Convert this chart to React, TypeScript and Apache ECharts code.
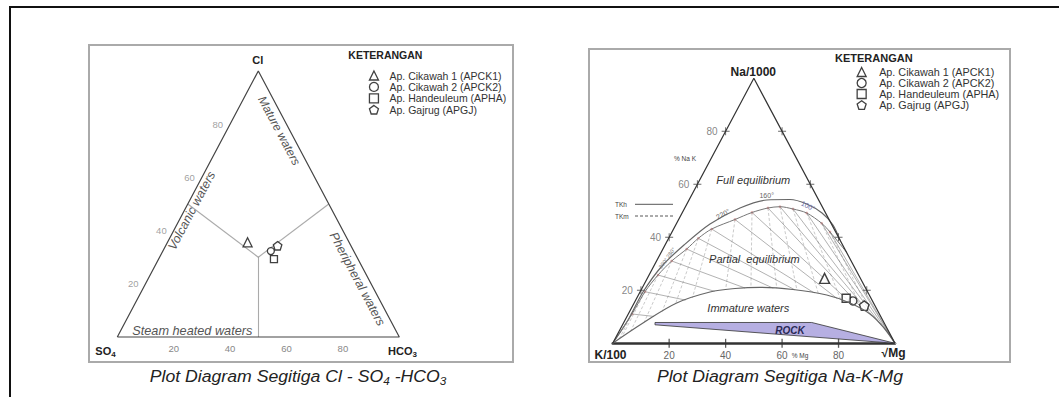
import React, { useEffect, useRef } from "react";
import * as echarts from "echarts";

const FONT = "Liberation Sans, Arial, sans-serif";
const PENTAGON = "path://M5,0L10,3.63L8.09,9.51L1.91,9.51L0,3.63Z";
const PLUS = "path://M4.4,0H5.6V4.4H10V5.6H5.6V10H4.4V5.6H0V4.4H4.4Z";

// ---- samples ----
const sampleNames = [
  "Ap. Cikawah 1 (APCK1)",
  "Ap. Cikawah 2 (APCK2)",
  "Ap. Handeuleum (APHA)",
  "Ap. Gajrug (APGJ)",
];
const sampleSymbols = ["triangle", "circle", "rect", PENTAGON];

// Chart 1: Cl - SO4 - HCO3 (%)
const clPct = [35.6, 32.3, 29.3, 34.3];
const so4Pct = [36.0, 29.4, 29.8, 26.0];
const hco3Pct = [28.4, 38.3, 40.9, 39.7];

// Chart 2: Na/1000 - K/100 - sqrt(Mg) (%)
const naPct = [24.5, 16.0, 17.0, 14.2];
const kPct = [12.7, 6.9, 8.8, 3.8];
const mgPct = [62.8, 77.1, 74.2, 82.0];

const tickValues = [20, 40, 60, 80];

// Chart 1 field boundaries [Cl, SO4, HCO3]
const volcanicLine = [[50, 50, 0], [30, 35, 35]];
const peripheralLine = [[50, 0, 50], [30, 35, 35]];
const steamLine = [[30, 35, 35], [0, 50, 50]];

// Chart 2 curves (Na %, Mg %; K = rest)
const fullEqNa = [0, 8.79, 19.36, 29.17, 37.09, 45.02, 51.06, 54.08, 54.26, 52.57, 49.17, 44.64, 38.98];
const fullEqMg = [0, 1.03, 1.05, 2.88, 6.71, 11.96, 19.57, 27.51, 35.67, 42.44, 49.56, 55.72, 61.0];

const dotNa = [11.06, 19.47, 25.77, 31.06, 35.58, 39.62, 43.13, 46.72, 49.36, 51.06, 51.55, 50.68, 49.17, 45.28, 42.0];
const dotMg = [1.31, 1.71, 3.16, 5.37, 8.42, 10.51, 13.5, 19.96, 24.66, 29.48, 33.48, 38.53, 44.13, 51.4, 55.97];
const innerEndNa = 34.45;
const innerEndMg = 65.55;

const lowerNa = [0, 7.66, 15.21, 19.36, 20.68, 21.13, 20.3, 18.23, 15.21, 11.06, 5.77, 0];
const lowerMg = [0, 6.9, 15.07, 24.79, 32.98, 41.62, 53.72, 66.7, 76.46, 85.61, 93.22, 100];

const rockNa = [7.85, 7.85, 0, 6.98];
const rockMg = [11.06, 66.57, 100, 11.49];

// ---- helpers ----
const tern1 = (cl: number, so4: number, hco3: number) => {
  const s = cl + so4 + hco3;
  return [((hco3 + cl / 2) / s) * 100, (cl / s) * 100];
};
const tern2 = (na: number, k: number, mg: number) => {
  const s = na + k + mg;
  return [((mg + na / 2) / s) * 100, (na / s) * 100];
};
const nm = (na: number, mg: number) => tern2(na, 100 - na - mg, mg);

function firstHit(p0: number[], p1: number[], poly: number[][]) {
  let best: number[] | null = null;
  let bu = Infinity;
  for (let i = 0; i < poly.length - 1; i++) {
    const a = poly[i], b = poly[i + 1];
    const r = [p1[0] - p0[0], p1[1] - p0[1]];
    const s = [b[0] - a[0], b[1] - a[1]];
    const den = r[0] * s[1] - r[1] * s[0];
    if (Math.abs(den) < 1e-9) continue;
    const q = [a[0] - p0[0], a[1] - p0[1]];
    const u = (q[0] * s[1] - q[1] * s[0]) / den;
    const v = (q[0] * r[1] - q[1] * r[0]) / den;
    if (u > 1e-4 && u <= 1 + 1e-9 && v >= -1e-9 && v <= 1 + 1e-9 && u < bu) {
      bu = u;
      best = [p0[0] + u * r[0], p0[1] + u * r[1]];
    }
  }
  return best || p1;
}

function buildOption(): any {
  const lowerCurve = lowerNa.map((n, i) => nm(n, lowerMg[i]));
  const dots = dotNa.map((n, i) => nm(n, dotMg[i]));
  const innerCurve = [nm(0, 0), ...dots, nm(innerEndNa, innerEndMg)];
  const fullEq = fullEqNa.map((n, i) => nm(n, fullEqMg[i]));
  const mgCorner = nm(0, 100);
  const naApex = nm(100, 0);
  const solidIso = dots.map((d) => ({ coords: [d, firstHit(d, mgCorner, lowerCurve)] }));
  const dashedIso = dots.map((d) => {
    const far = [d[0] + 3 * (d[0] - naApex[0]), d[1] + 3 * (d[1] - naApex[1])];
    return { coords: [d, firstHit(d, far, lowerCurve)] };
  });

  const series: any[] = [];
  // ---- chart 1 ----
  series.push({
    type: "line", xAxisIndex: 0, yAxisIndex: 0, symbol: "none", silent: true, clip: false,
    data: [tern1(0, 100, 0), tern1(0, 0, 100), tern1(100, 0, 0), tern1(0, 100, 0)],
    lineStyle: { color: "#444", width: 1.2 },
  });
  series.push({
    type: "lines", coordinateSystem: "cartesian2d", xAxisIndex: 0, yAxisIndex: 0, silent: true, clip: false,
    data: [volcanicLine, peripheralLine, steamLine].map((ln) => ({
      coords: ln.map((p) => tern1(p[0], p[1], p[2])),
    })),
    lineStyle: { color: "#555", width: 1.1 },
  });
  series.push({
    type: "scatter", xAxisIndex: 0, yAxisIndex: 0, symbolSize: 0, silent: true, clip: false,
    data: tickValues.map((t) => ({ value: [...tern1(t, 100 - t, 0), t] })),
    label: {
      show: true, position: "left", distance: 7, formatter: (p: any) => String(p.value[2]),
      color: "#888", fontSize: 9.5, fontFamily: FONT,
    },
  });
  const size1 = [9, 7, 7, 8.5];
  sampleNames.forEach((name, i) => {
    series.push({
      type: "scatter", name, xAxisIndex: 0, yAxisIndex: 0, clip: false,
      symbol: sampleSymbols[i], symbolSize: size1[i],
      itemStyle: { color: "#fff", borderColor: "#111", borderWidth: 1.3 },
      data: [tern1(clPct[i], so4Pct[i], hco3Pct[i])],
    });
  });

  // ---- chart 2 ----
  series.push({
    type: "custom", xAxisIndex: 1, yAxisIndex: 1, silent: true, clip: false, z: 1,
    data: [[0, 0]],
    renderItem: (_p: any, api: any) => ({
      type: "polygon",
      shape: { points: rockNa.map((n, i) => api.coord(nm(n, rockMg[i]))) },
      style: { fill: "#b6afe2", stroke: "#333", lineWidth: 0.8 },
    }),
  });
  series.push({
    type: "lines", coordinateSystem: "cartesian2d", xAxisIndex: 1, yAxisIndex: 1, silent: true, clip: false,
    data: dashedIso, lineStyle: { color: "#7a7a7a", width: 0.8, type: [3, 2] },
  });
  series.push({
    type: "lines", coordinateSystem: "cartesian2d", xAxisIndex: 1, yAxisIndex: 1, silent: true, clip: false,
    data: solidIso, lineStyle: { color: "#666", width: 1 },
  });
  series.push({
    type: "line", xAxisIndex: 1, yAxisIndex: 1, symbol: "none", silent: true, clip: false, smooth: 0.3,
    data: fullEq, lineStyle: { color: "#666", width: 1.2 },
  });
  series.push({
    type: "line", xAxisIndex: 1, yAxisIndex: 1, symbol: "none", silent: true, clip: false, smooth: 0.3,
    data: innerCurve, lineStyle: { color: "#777", width: 1 },
  });
  series.push({
    type: "line", xAxisIndex: 1, yAxisIndex: 1, symbol: "none", silent: true, clip: false, smooth: 0.35,
    data: lowerCurve, lineStyle: { color: "#666", width: 1.2 },
  });
  series.push({
    type: "scatter", xAxisIndex: 1, yAxisIndex: 1, silent: true, clip: false, symbolSize: 2.6,
    data: dots, itemStyle: { color: "#d98c8c" },
  });
  series.push({
    type: "line", xAxisIndex: 1, yAxisIndex: 1, symbol: "none", silent: true, clip: false,
    data: [nm(0, 0), naApex, mgCorner], lineStyle: { color: "#333", width: 1.2 },
  });
  series.push({
    type: "line", xAxisIndex: 1, yAxisIndex: 1, symbol: "none", silent: true, clip: false,
    data: [[100, 0], [106, 0]], lineStyle: { color: "#999", width: 1.6 },
  });
  series.push({
    type: "scatter", xAxisIndex: 1, yAxisIndex: 1, silent: true, clip: false,
    symbol: "rect", symbolSize: [1.3, 9], itemStyle: { color: "#333" },
    data: tickValues.map((t) => [t, 0]),
  });
  series.push({
    type: "scatter", xAxisIndex: 1, yAxisIndex: 1, silent: true, clip: false,
    symbol: PLUS, symbolSize: 8, itemStyle: { color: "#444" },
    data: tickValues.map((t) => ({ value: [...tern2(t, 100 - t, 0), t] })),
    label: {
      show: true, position: "left", distance: 4, formatter: (p: any) => String(p.value[2]),
      color: "#666", fontSize: 10, fontFamily: FONT,
    },
  });
  series.push({
    type: "scatter", xAxisIndex: 1, yAxisIndex: 1, silent: true, clip: false,
    symbol: PLUS, symbolSize: 8, itemStyle: { color: "#444" },
    data: tickValues.map((t) => tern2(t, 0, 100 - t)),
  });
  const size2 = [10, 8, 8, 9.5];
  sampleNames.forEach((name, i) => {
    series.push({
      type: "scatter", name, xAxisIndex: 1, yAxisIndex: 1, clip: false,
      symbol: sampleSymbols[i], symbolSize: size2[i],
      itemStyle: { color: "#fff", borderColor: "#111", borderWidth: 1.4 },
      data: [tern2(naPct[i], kPct[i], mgPct[i])],
    });
  });

  const txt = (x: number, y: number, text: string, o: any = {}, extra: any = {}) => ({
    type: "text", x, y, z: 50, silent: true, ...extra,
    style: {
      text, fontFamily: FONT, fontSize: 11, fill: "#222", align: "center", verticalAlign: "middle", ...o,
    },
  });
  const sub = (x: number, y: number, a: string, b: string, c: string, d: string, size: number, subSize: number, weight: string, italic: boolean, extra: any = {}) => ({
    type: "text", x, y, z: 50, silent: true, ...extra,
    style: {
      text: `{m|${a}}{s|${b}}` + (c ? `{m|${c}}{s|${d}}` : ""),
      align: "center", verticalAlign: "middle",
      rich: {
        m: { fontFamily: FONT, fontSize: size, fontWeight: weight, fontStyle: italic ? "italic" : "normal", fill: "#222", lineHeight: size + 2, padding: [0, 0, 2, 0], verticalAlign: "top" },
        s: { fontFamily: FONT, fontSize: subSize, fontWeight: weight, fontStyle: italic ? "italic" : "normal", fill: "#222", lineHeight: subSize, verticalAlign: "bottom" },
      },
    },
  });

  const graphic: any[] = [
    { type: "rect", silent: true, shape: { x: 10, y: 7, width: 1100, height: 500 }, style: { fill: "transparent", stroke: "#111", lineWidth: 2 } },
    { type: "rect", silent: true, shape: { x: 89, y: 45, width: 424, height: 317 }, style: { fill: "transparent", stroke: "#aaa", lineWidth: 2 } },
    { type: "rect", silent: true, shape: { x: 589, y: 49, width: 421, height: 313 }, style: { fill: "transparent", stroke: "#aaa", lineWidth: 2 } },
    // chart 1 texts
    txt(348.3, 54.5, "KETERANGAN", { align: "left", fontWeight: "bold", fontSize: 10.5 }),
    txt(257.7, 60, "Cl", { fontWeight: "bold", fontSize: 11 }),
    sub(105.5, 352, "SO", "4", "", "", 11, 8, "bold", false),
    sub(402.5, 352, "HCO", "3", "", "", 11, 8, "bold", false),
    txt(279.2, 130.8, "Mature waters", { fontStyle: "italic", fontSize: 12, fill: "#555" }, { rotation: -1.082 }),
    txt(191.7, 210.7, "Volcanic waters", { fontStyle: "italic", fontSize: 12.5, fill: "#555" }, { rotation: 1.085 }),
    txt(357.3, 279, "Pheripheral waters", { fontStyle: "italic", fontSize: 12.5, fill: "#555" }, { rotation: -1.082 }),
    txt(192.3, 331.3, "Steam heated waters", { fontStyle: "italic", fontSize: 12, fill: "#555" }, { scaleX: 1.06 }),
    sub(298, 377, "Plot Diagram Segitiga Cl - SO", "4", " -HCO", "3", 16.5, 11, "normal", true, { scaleX: 1.07 }),
    // chart 2 texts
    txt(835, 58.3, "KETERANGAN", { align: "left", fontWeight: "bold", fontSize: 11 }),
    txt(753.3, 71.5, "Na/1000", { fontWeight: "bold", fontSize: 12 }),
    txt(610.5, 355, "K/100", { fontWeight: "bold", fontSize: 12 }),
    txt(893.5, 352.5, "\u221AMg", { fontWeight: "bold", fontSize: 12 }),
    txt(685, 158.3, "% Na K", { fontSize: 6.5, fill: "#444" }),
    txt(800, 355, "% Mg", { fontSize: 6.5, fill: "#444" }),
    txt(615, 204.3, "TKh", { align: "left", fontSize: 6.5, fill: "#444" }),
    txt(615, 216, "TKm", { align: "left", fontSize: 6.5, fill: "#444" }),
    { type: "line", silent: true, shape: { x1: 635, y1: 204.3, x2: 673, y2: 204.3 }, style: { stroke: "#444", lineWidth: 0.9 } },
    { type: "line", silent: true, shape: { x1: 635, y1: 216, x2: 673, y2: 216 }, style: { stroke: "#444", lineWidth: 0.9, lineDash: [3, 2] } },
    txt(753.3, 180, "Full equilibrium", { fontStyle: "italic", fontSize: 11, fill: "#333" }),
    txt(754.3, 259, "Partial  equilibrium", { fontStyle: "italic", fontSize: 11, fill: "#333" }),
    txt(748.3, 308.3, "Immature waters", { fontStyle: "italic", fontSize: 11, fill: "#333" }),
    txt(790, 330, "ROCK", { fontStyle: "italic", fontWeight: "bold", fontSize: 10, fill: "#2a2a55" }),
    txt(766.7, 195.5, "160\u00B0", { fontSize: 7, fill: "#666" }),
    txt(808, 206, "100\u00B0", { fontSize: 7, fill: "#6a6aa8" }, { rotation: -0.45 }),
    txt(723, 214, "220\u00B0", { fontSize: 7, fill: "#666" }, { rotation: 0.5 }),
    txt(667, 258, "300\u00B0 280\u00B0", { fontSize: 5.5, fill: "#777" }, { rotation: 0.95 }),
    txt(780, 377, "Plot Diagram Segitiga Na-K-Mg", { fontStyle: "italic", fontSize: 16.5, fill: "#222" }, { scaleX: 1.07 }),
  ];

  const legendBase = {
    data: sampleNames.map((n, i) => ({ name: n, icon: sampleSymbols[i] })),
    orient: "vertical", padding: 0, itemWidth: 9, itemHeight: 9, selectedMode: false,
    itemStyle: { color: "#fff", borderColor: "#111", borderWidth: 1.3 },
  };

  return {
    animation: false,
    backgroundColor: "#fff",
    textStyle: { fontFamily: FONT },
    grid: [
      { left: 117.3, top: 71, width: 282, height: 266 },
      { left: 612.7, top: 78.3, width: 282.3, height: 265 },
    ],
    xAxis: [
      {
        gridIndex: 0, type: "value", min: 0, max: 100,
        axisLine: { show: false }, axisTick: { show: false }, splitLine: { show: false },
        axisLabel: { customValues: tickValues, color: "#888", fontSize: 9.5, margin: 6, fontFamily: FONT },
      },
      {
        gridIndex: 1, type: "value", min: 0, max: 100,
        axisLine: { show: true, lineStyle: { color: "#333", width: 2.5 } },
        axisTick: { show: false }, splitLine: { show: false },
        axisLabel: { customValues: tickValues, color: "#666", fontSize: 10, margin: 7, fontFamily: FONT },
      },
    ],
    yAxis: [
      { gridIndex: 0, type: "value", min: 0, max: 100, show: false, splitLine: { show: false } },
      { gridIndex: 1, type: "value", min: 0, max: 100, show: false, splitLine: { show: false } },
    ],
    legend: [
      {
        ...legendBase, left: 368.8, top: 70, itemGap: 0.4,
        textStyle: { fontFamily: FONT, fontSize: 10.5, color: "#333", padding: [0, 0, 0, 6], lineHeight: 9 },
      },
      {
        ...legendBase, left: 856.5, top: 66.5, itemGap: 0,
        textStyle: { fontFamily: FONT, fontSize: 10.8, color: "#333", padding: [0, 0, 0, 8], lineHeight: 9 },
      },
    ],
    graphic,
    series,
  };
}

export default function App() {
  const ref = useRef<HTMLDivElement>(null);
  useEffect(() => {
    document.body.style.margin = "0";
    const chart = echarts.init(ref.current!, undefined, { renderer: "svg" });
    chart.setOption(buildOption());
    return () => chart.dispose();
  }, []);
  return <div ref={ref} style={{ width: 1059, height: 397 }} />;
}
